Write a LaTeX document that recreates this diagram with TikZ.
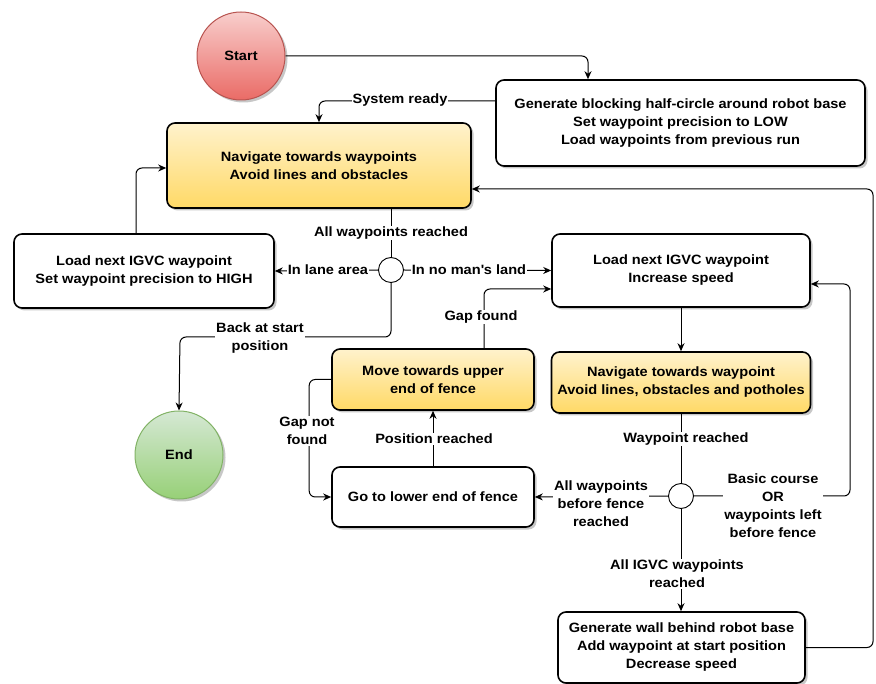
\documentclass[tikz,border=0pt]{standalone}
\usepackage{fontspec}
\setmainfont{Liberation Sans}[FakeStretch=1.08]
\usetikzlibrary{shadows,arrows.meta}

\definecolor{yTop}{HTML}{FFF2CC}
\definecolor{yBot}{HTML}{FFD966}
\definecolor{rTop}{HTML}{F8CECC}
\definecolor{rBot}{HTML}{EA6B66}
\definecolor{rLine}{HTML}{B85450}
\definecolor{gTop}{HTML}{D5E8D4}
\definecolor{gBot}{HTML}{97D077}
\definecolor{gLine}{HTML}{82B366}

\begin{document}
\begin{tikzpicture}[x=1pt,y=-1pt,
  font=\bfseries\fontsize{13.5}{18}\selectfont,
  shad/.style={drop shadow={shadow xshift=2.5pt,shadow yshift=-2.5pt,opacity=0.22,fill=black}},
  box/.style={draw,line width=1.6pt,rounded corners=8pt,fill=white,align=center,inner sep=0pt,shad},
  ybox/.style={box,top color=yTop,bottom color=yBot},
  dec/.style={circle,draw,line width=0.9pt,fill=white,minimum size=25pt,inner sep=0pt},
  term/.style={circle,draw,line width=1pt,minimum size=88pt,inner sep=0pt,shad},
  lbl/.style={fill=white,inner sep=1pt,align=center},
  link/.style={line width=1pt,rounded corners=6pt},
  arr/.style={link,-{Stealth[length=8pt,width=7pt]}}]

\useasboundingbox (0,0) rectangle (876,684);

% states
\node[term,draw=rLine,top color=rTop,bottom color=rBot] (start) at (241,56) {Start};
\node[term,draw=gLine,top color=gTop,bottom color=gBot] (end) at (179,455) {End};
\node[box,minimum width=369pt,minimum height=86pt] (gen) at (680.5,123)
  {Generate blocking half-circle around robot base\\Set waypoint precision to LOW\\Load waypoints from previous run};
\node[ybox,minimum width=304pt,minimum height=85pt] (nav) at (319,165.5)
  {Navigate towards waypoints\\Avoid lines and obstacles};
\node[box,minimum width=260pt,minimum height=74pt] (loadhigh) at (144,271)
  {Load next IGVC waypoint\\Set waypoint precision to HIGH};
\node[dec] (d1) at (391,270) {};
\node[box,minimum width=258pt,minimum height=73pt] (loadinc) at (681,270.5)
  {Load next IGVC waypoint\\Increase speed};
\node[ybox,minimum width=202pt,minimum height=61pt] (move) at (433,379.5)
  {Move towards upper\\end of fence};
\node[ybox,minimum width=259pt,minimum height=61pt] (nav2) at (681,382.5)
  {Navigate towards waypoint\\Avoid lines, obstacles and potholes};
\node[box,minimum width=202pt,minimum height=60pt] (golow) at (433,497)
  {Go to lower end of fence};
\node[dec] (d2) at (681,496) {};
\node[box,minimum width=247pt,minimum height=71pt] (wall) at (681.5,647.5)
  {Generate wall behind robot base\\Add waypoint at start position\\Decrease speed};

% corner points of the longer connectors
\coordinate (backc) at (180,337);
\coordinate (loopc) at (873,189);
\coordinate (basicc) at (850,284);

% connectors
\draw[arr] (start.east) -| ([xshift=-92.5pt]gen.north);
\draw[arr] ([yshift=22pt]gen.west) -| (nav.north);
\draw[link] (nav.south -| d1.north) -- (d1.north);
\draw[arr] (d1.west) -- (loadhigh.east);
\draw[arr] (d1.east) -- (loadinc.west);
\draw[arr] (d1.south) |- (backc) -- (end.north);
\draw[arr] ([xshift=-8pt]loadhigh.north) |- ([yshift=-2.5pt]nav.west);
\draw[arr] (wall.east) -| (loopc) -- (nav.east |- loopc);
\draw[arr] (loadinc.south) -- (nav2.north);
\draw[link] (nav2.south -| d2.north) -- (d2.north);
\draw[arr] (d2.west) -- (golow.east);
\draw[arr] (d2.east) -| (basicc) -- (loadinc.east |- basicc);
\draw[arr] (d2.south) -- (wall.north -| d2.south);
\draw[arr] (golow.north) -- (move.south);
\draw[arr] (move.west) -- ++(-22,0) |- (golow.west);
\draw[arr] ([xshift=51pt]move.north) |- ([yshift=-18.5pt]loadinc.west);

% connector labels
\node[lbl] (tready) at (400,100) {System ready};
\node[lbl] (tallwp) at (391,233) {All waypoints reached};
\node[lbl] (tlane) at (328,270) {In lane area};
\node[lbl] (tnoman) at (469,270) {In no man\textquotesingle s land};
\node[lbl] (tback) at (260,338) {Back at start\\position};
\node[lbl] (tgap) at (481,317) {Gap found};
\node[lbl] (tnogap) at (307,431) {Gap not\\found};
\node[lbl] (tpos) at (434,439) {Position reached};
\node[lbl] (twp) at (686,439) {Waypoint reached};
\node[lbl] (tfence) at (601,504) {All waypoints\\before fence\\reached};
\node[lbl] (tbasic) at (773,505.5) {Basic course\\OR\\waypoints left\\before fence};
\node[lbl] (tigvc) at (677,574) {All IGVC waypoints\\reached};
\end{tikzpicture}
\end{document}
